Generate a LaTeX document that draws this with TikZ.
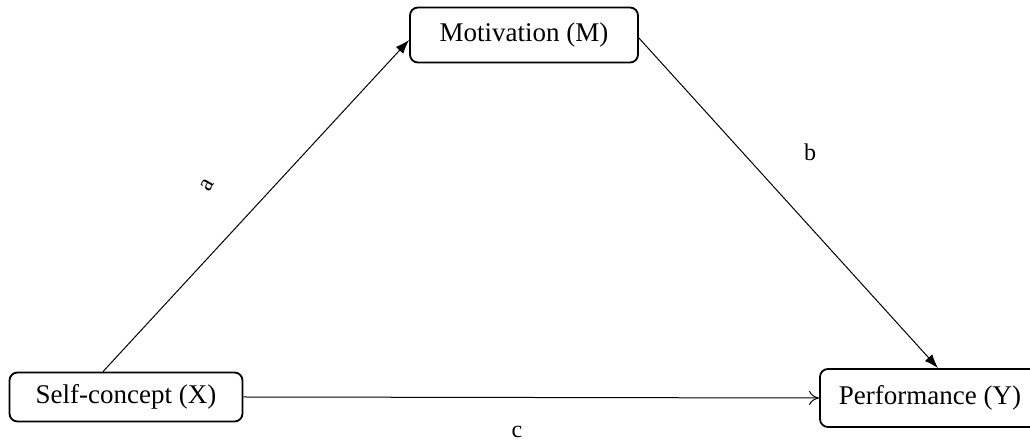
\documentclass[tikz,border=0pt]{standalone}
\usepackage{fontspec}
\setmainfont{Liberation Serif}
\usetikzlibrary{arrows.meta,calc}

\tikzset{
  varbox/.style={draw,rounded corners=4pt,line width=0.9pt,minimum width=#1,
    inner sep=0pt,font=\fontsize{13.5}{15}\selectfont},
  path/.style={line width=0.5pt,-{Latex[length=7pt,width=5pt]}},
  lbl/.style={font=\fontsize{12}{14}\selectfont}
}

\begin{document}
\begin{tikzpicture}[x=0.5pt,y=-0.5pt]
    \useasboundingbox (0,0) rectangle (1030,442);
    % variables
    \node[varbox=114pt,minimum height=27.5pt] (M) at (524,35) {Motivation (M)};
    \node[varbox=116.5pt,minimum height=24.5pt] (X) at (126,397) {Self-concept (X)};
    \node[varbox=110pt,minimum height=29pt] (Y) at (930,398) {Performance (Y)};
    % label points
    \coordinate (La) at (207,185);
    \coordinate (Lb) at (810,152);
    \coordinate (Lc) at (517,432);
    % paths
    \draw[path] ([xshift=-11.5pt]X.north) -- ([yshift=-2.5pt]M.west);
    \draw[path] ([yshift=-1.5pt]M.east) -- ([xshift=4pt]Y.north);
    \draw[line width=0.5pt,-{To[length=5pt,width=7pt]}] (X.east) -- (Y.west);
    %\draw[red] (La) circle (3);
    \node[lbl,rotate=60] at (La) {a};
    \node[lbl] at (Lb) {b};
    \node[lbl] at (Lc) {c};
\end{tikzpicture}
\end{document}
